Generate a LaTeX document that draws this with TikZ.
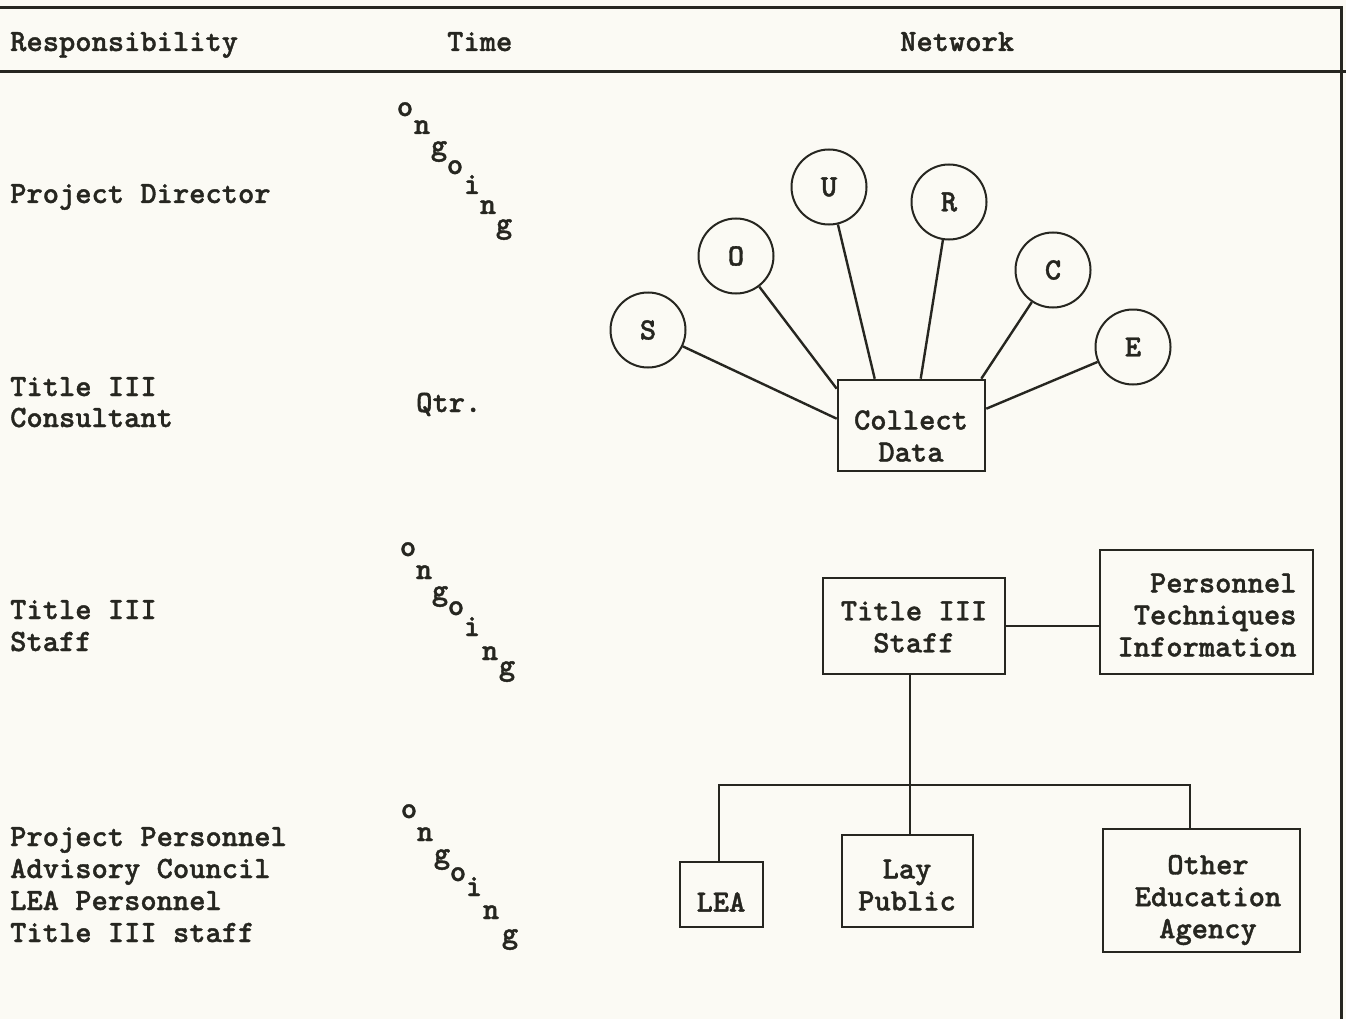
\documentclass[tikz,border=0pt]{standalone}
\usepackage{fontspec}
\newfontfamily\typer[FakeBold=1.2]{lmmonolt10-bold.otf}
\usetikzlibrary{calc}
\definecolor{ink}{RGB}{38,38,32}
\definecolor{paper}{RGB}{251,250,244}
\tikzset{
  txt/.style={font=\typer\fontsize{31}{32}\selectfont, text=ink, inner sep=0pt},
  col/.style={txt, anchor=base west},
  lett/.style={txt, anchor=base},
  box/.style={draw=ink, line width=2.6pt, rectangle, inner sep=0pt},
  boxtext/.style={txt, align=center},
  ring/.style={draw=ink, line width=2pt, circle, minimum size=75pt, txt},
  wire/.style={draw=ink, line width=2.4pt},
  rule/.style={draw=ink, line width=3pt},
}
% seven letters of "ongoing" set down a staircase
\newcommand{\stairword}[8]{%
  \foreach \ch/\px/\py [count=\k] in {o/#2, n/#3, g/#4, o/#5, i/#6, n/#7, g/#8}
    \node[lett] (#1\k) at (\px,\py) {\ch};}
\begin{document}
\begin{tikzpicture}[x=1pt,y=-1pt]
\fill[paper] (0,0) rectangle (1346,1019);
\useasboundingbox (0,0) rectangle (1346,1019);

% table rules
\coordinate (tl) at (0,8);
\coordinate (tr) at (1341,8);
\coordinate (br) at (1341,1019);
\coordinate (hl) at (0,72);
\coordinate (hr) at (1346,72);
\draw[rule] (tl) -- (tr) -- (br);
\draw[rule] (hl) -- (hr);

% column heads
\node[col] (hresp) at (10,51) {Responsibility};
\node[col] (htime) at (447,51) {Time};
\node[col] (hnet)  at (900,51) {Network};

% responsibility column
\node[col] (r1)  at (10,203) {Project Director};
\node[col] (r2a) at (10,396) {Title III};
\node[col] (r2b) at (10,427) {Consultant};
\node[col] (r3a) at (10,619) {Title III};
\node[col] (r3b) at (10,651) {Staff};
\node[col] (r4a) at (10,846) {Project Personnel};
\node[col] (r4b) at (10,878) {Advisory Council};
\node[col] (r4c) at (10,910) {LEA Personnel};
\node[col] (r4d) at (10,942) {Title III staff};

% time column
\stairword{ta}{405/116}{422/134}{439/155}{455/174}{472/194}{488/214}{504/233}
\node[col] (tq) at (416,412) {Qtr.};
\stairword{tb}{408/556}{424/579}{440/600}{456/615}{472/636}{490/660}{507/675}
\stairword{tc}{409/818}{425/841}{442/863}{458/881}{474/896}{491/919}{510/943}

% network: sources around the data collection box
\node[box, minimum width=147pt, minimum height=91pt] (cd) at (911.5,425.5) {};
\node[boxtext] (cdt) at (911,436) {Collect\\Data};
\node[ring] (s) at (648,330) {S};
\node[ring] (o) at (736,256) {O};
\node[ring] (u) at (829,187) {U};
\node[ring] (r) at (949,202) {R};
\node[ring] (c) at (1053,270) {C};
\node[ring] (e) at (1133,347) {E};
\draw[wire] (s) -- ($(cd.north west)+(0,40)$);
\draw[wire] (o) -- ($(cd.north west)+(0,10)$);
\draw[wire] (u) -- ($(cd.north west)+(38,0)$);
\draw[wire] (r) -- ($(cd.north west)+(84,0)$);
\draw[wire] (c) -- ($(cd.north east)+(-5,0)$);
\draw[wire] (e) -- ($(cd.north east)+(0,30)$);

% staff and its information source
\node[box, minimum width=182pt, minimum height=96pt] (staff) at (914,626) {};
\node[boxtext] (stafft) at (914,627) {Title III\\Staff};
\node[box, minimum width=213pt, minimum height=124pt] (pti) at (1206.5,612) {};
\node[boxtext, align=right] (ptit) at (1207,615) {Personnel\\Techniques\\Information};
\draw[wire] ($(cd.south)+(-4,0)$) -- ($(cd.south)+(-4,0)$ |- staff.north);
\draw[wire] (staff.east) -- (staff.east -| pti.west);

% audiences
\node[box, minimum width=83pt, minimum height=65pt] (lea) at (721.5,894.5) {};
\node[boxtext] (leat) at (721,902) {LEA};
\node[box, minimum width=131pt, minimum height=92pt] (lay) at (907.5,881) {};
\node[boxtext] (layt) at (907,885) {Lay\\Public};
\node[box, minimum width=197pt, minimum height=123pt] (oth) at (1201.5,890.5) {};
\node[boxtext] (otht) at (1208,900) {Other\\Education\\Agency};
\coordinate (j) at (910,785);
\coordinate (jl) at (719,785);
\coordinate (jr) at (1190,785);
\draw[wire] (j |- staff.south) -- (j |- lay.north);
\draw[wire] (jl |- lea.north) -- (jl) -- (jr) -- (jr |- oth.north);
\end{tikzpicture}
\end{document}
